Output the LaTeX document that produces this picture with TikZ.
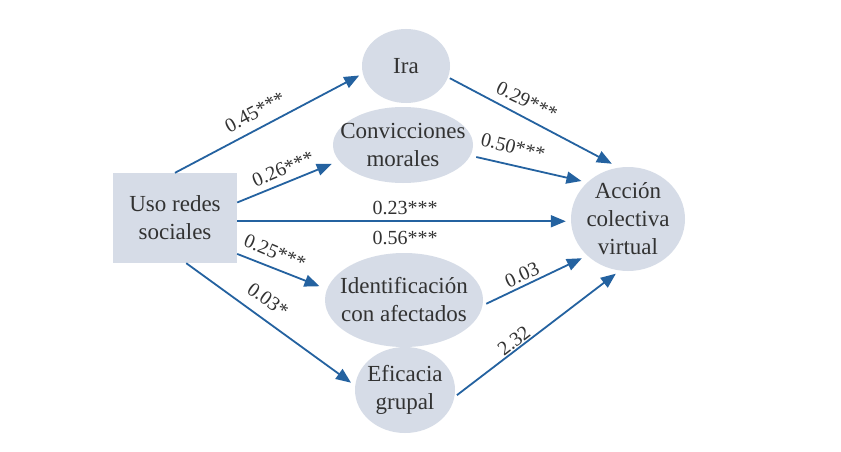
\documentclass[tikz,border=0pt]{standalone}
\usepackage{fontspec}
\setmainfont{Liberation Serif}
\usetikzlibrary{shapes.geometric,arrows.meta,calc}
\definecolor{nodefill}{RGB}{214,220,231}
\definecolor{arrowc}{RGB}{36,98,160}
\definecolor{txtc}{RGB}{50,50,50}
\begin{document}
\begin{tikzpicture}[x=1pt,y=-1pt,
  ell/.style={ellipse,fill=nodefill,inner sep=0pt},
  boxn/.style={rectangle,fill=nodefill,inner sep=0pt},
  txt/.style={align=center,text=txtc,inner sep=0pt,font=\fontsize{23}{28}\selectfont},
  conn/.style={draw=arrowc,line width=1.8pt,-{Triangle[length=15pt,width=12pt]}},
  lab/.style={text=txtc,font=\fontsize{20}{24}\selectfont,inner sep=0pt}]
\useasboundingbox (0,0) rectangle (841,452);
\fill[white] (0,0) rectangle (841,452);
% shapes
\node[boxn,minimum width=124pt,minimum height=90pt] (uso) at (175,218) {};
\node[ell,minimum width=88pt,minimum height=74pt] (ira) at (406,66) {};
\node[ell,minimum width=140pt,minimum height=76pt] (conv) at (403,145) {};
\node[ell,minimum width=114pt,minimum height=104pt] (acc) at (628,219) {};
\node[ell,minimum width=158pt,minimum height=94pt] (ident) at (404,300) {};
\node[ell,minimum width=100pt,minimum height=86pt] (efic) at (405,390) {};
% texts
\node[txt] (usot) at (uso) {Uso redes\\sociales};
\node[txt] (irat) at (ira) {Ira};
\node[txt] (convt) at (conv) {Convicciones\\morales};
\node[txt] (acct) at (acc) {Acción\\colectiva\\virtual};
\node[txt] (identt) at (ident) {Identificación\\con afectados};
\node[txt] (efict) at (efic) {Eficacia\\grupal};
% connectors
\draw[conn,shorten >=4pt] (uso.north) -- (ira.190);
\draw[conn,shorten >=8pt] (uso.14.5) -- (conv.194.6);
\draw[conn,shorten >=5pt] (uso.-3.7) -- (uso.-3.7 -| acc.west);
\draw[conn,shorten >=8pt] (uso.-30) -- (ident.172);
\draw[conn,shorten >=5pt] (uso.-76) -- (efic.175);
\draw[conn,shorten <=2pt,shorten >=8pt] (ira.-15) -- (acc.100.6);
\draw[conn,shorten <=6pt,shorten >=6pt] (conv.-9) -- (acc.138.3);
\draw[conn,shorten <=4pt,shorten >=6pt] (ident.-4.8) -- (acc.222.3);
\draw[conn,shorten <=3pt,shorten >=5pt] (efic.-8.6) -- (acc.261.9);
% labels
\node[lab,rotate=28] (l1) at (255,112) {0.45***};
\node[lab,rotate=23] (l2) at (283,169) {0.26***};
\node[lab] (l3) at (405,208) {0.23***};
\node[lab] (l4) at (405,238) {0.56***};
\node[lab,rotate=-23] (l5) at (275,252) {0.25***};
\node[lab,rotate=-36] (l6) at (268,300) {0.03*};
\node[lab,rotate=-26] (l7) at (527,101) {0.29***};
\node[lab,rotate=-14] (l8) at (513,147) {0.50***};
\node[lab,rotate=24] (l9) at (522,275) {0.03};
\node[lab,rotate=38] (l10) at (514,341) {2.32};
\end{tikzpicture}
\end{document}
